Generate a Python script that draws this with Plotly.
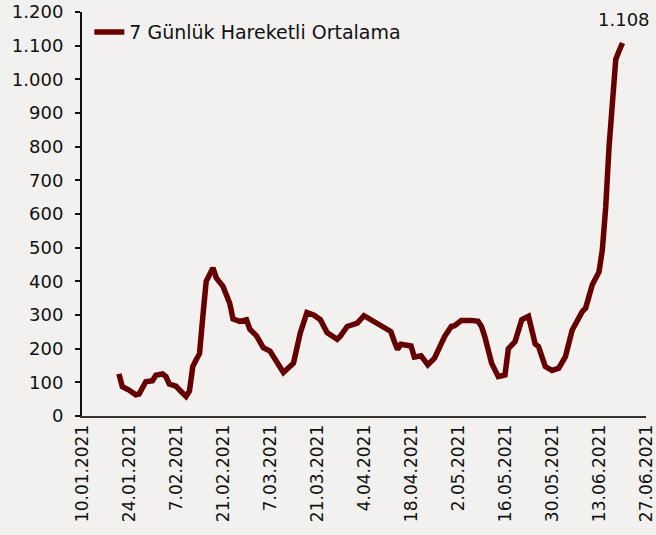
import plotly.graph_objects as go

# Data (7-day moving average)
dates = [
    "2021-01-21", "2021-01-22", "2021-01-24", "2021-01-26", "2021-01-27", "2021-01-29",
    "2021-01-31", "2021-02-01", "2021-02-03", "2021-02-04", "2021-02-05", "2021-02-07",
    "2021-02-08", "2021-02-10", "2021-02-11", "2021-02-12", "2021-02-13", "2021-02-14",
    "2021-02-15", "2021-02-16", "2021-02-18", "2021-02-19", "2021-02-21", "2021-02-23",
    "2021-02-24", "2021-02-26", "2021-02-28", "2021-03-01", "2021-03-03", "2021-03-05",
    "2021-03-07", "2021-03-11", "2021-03-14", "2021-03-16", "2021-03-18", "2021-03-20",
    "2021-03-22", "2021-03-24", "2021-03-27", "2021-03-28", "2021-03-30", "2021-04-02",
    "2021-04-04", "2021-04-06", "2021-04-08", "2021-04-10", "2021-04-12", "2021-04-13",
    "2021-04-14", "2021-04-15", "2021-04-18", "2021-04-19", "2021-04-21", "2021-04-23",
    "2021-04-25", "2021-04-28", "2021-04-30", "2021-05-01", "2021-05-03", "2021-05-06",
    "2021-05-08", "2021-05-09", "2021-05-10", "2021-05-12", "2021-05-14", "2021-05-16",
    "2021-05-17", "2021-05-19", "2021-05-21", "2021-05-23", "2021-05-25", "2021-05-26",
    "2021-05-28", "2021-05-30", "2021-06-01", "2021-06-03", "2021-06-05", "2021-06-08",
    "2021-06-09", "2021-06-11", "2021-06-13", "2021-06-14", "2021-06-15", "2021-06-16",
    "2021-06-17", "2021-06-18", "2021-06-19", "2021-06-20",
]
values = [
    125, 87, 77, 63, 65, 102,
    105, 121, 125, 117, 95, 89,
    78, 58, 74, 147, 167, 185,
    296, 400, 440, 410, 385, 335,
    288, 281, 286, 258, 238, 203,
    193, 129, 157, 246, 307, 300,
    286, 248, 228, 238, 266, 276,
    298, 286, 276, 261, 251, 222,
    198, 213, 208, 175, 179, 152,
    172, 236, 266, 268, 284, 284,
    281, 266, 235, 157, 117, 122,
    200, 221, 286, 296, 214, 206,
    147, 135, 142, 176, 255, 310,
    320, 390, 428, 494, 620, 800,
    960, 1060, 1085, 1108,
]

series_name = "7 Günlük Hareketli Ortalama"
last_label = "1.108"

tick_dates = [
    "2021-01-10", "2021-01-24", "2021-02-07", "2021-02-21", "2021-03-07", "2021-03-21",
    "2021-04-04", "2021-04-18", "2021-05-02", "2021-05-16", "2021-05-30", "2021-06-13",
    "2021-06-27",
]
tick_text = [
    "10.01.2021", "24.01.2021", "7.02.2021", "21.02.2021", "7.03.2021", "21.03.2021",
    "4.04.2021", "18.04.2021", "2.05.2021", "16.05.2021", "30.05.2021", "13.06.2021",
    "27.06.2021",
]
y_ticks = list(range(0, 1201, 100))

LINE = "#660000"
BG = "#F2F1F0"
FONT = "DejaVu Sans"
TXT = "#111111"

fig = go.Figure()
fig.add_trace(go.Scatter(
    x=dates, y=values, mode="lines", name=series_name,
    line=dict(color=LINE, width=5.5, shape="linear"),
    showlegend=True,
))

fig.add_annotation(
    x=dates[-1], y=values[-1], text=last_label, showarrow=False,
    yshift=23, xshift=1, font=dict(family=FONT, size=18, color=TXT),
)

fig.update_layout(
    width=656, height=535,
    margin=dict(l=82, r=10, t=12, b=119, autoexpand=False),
    paper_bgcolor=BG, plot_bgcolor=BG,
    font=dict(family=FONT, size=17, color=TXT),
    separators=",.",
    showlegend=True,
    legend=dict(
        x=0.013, y=0.997, xanchor="left", yanchor="top",
        bgcolor="rgba(0,0,0,0)", font=dict(family=FONT, size=19, color=TXT),
        itemwidth=30,
    ),
    xaxis=dict(
        type="date", automargin=False,
        range=["2021-01-10", "2021-06-27"],
        tickmode="array", tickvals=tick_dates, ticktext=tick_text,
        tickangle=-90,
        showgrid=False, zeroline=False,
        showline=True, linecolor="#333333", linewidth=2,
        ticks="", ticklen=0,
        tickfont=dict(family=FONT, size=17, color=TXT),
    ),
    yaxis=dict(
        automargin=False,
        range=[0, 1200],
        tickmode="array", tickvals=y_ticks,
        tickformat=",d",
        showgrid=False, zeroline=False,
        showline=True, linecolor=TXT, linewidth=2,
        ticks="outside", ticklen=5, tickwidth=2, tickcolor=TXT,
        ticklabelstandoff=8,
        tickfont=dict(family=FONT, size=18, color=TXT),
    ),
)

page_fix = (
    "document.body.style.margin='0';"
    "document.body.style.padding='0';"
    "document.body.style.overflow='hidden';"
    "document.body.style.background='" + BG + "';"
)

fig.write_html("out.html", post_script=page_fix, config={"displayModeBar": False})
